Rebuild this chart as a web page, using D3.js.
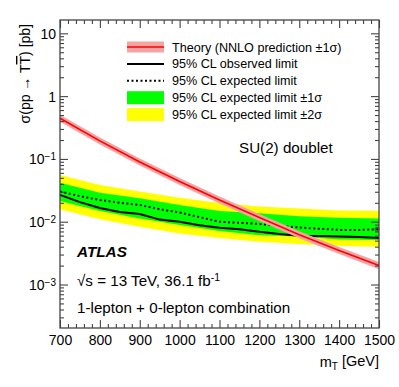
<!DOCTYPE html>
<html>
<head>
<meta charset="utf-8">
<script src="https://cdn.jsdelivr.net/npm/d3@7"></script>
<style>
body { margin: 0; background: #fff; }
text { font-family: "Liberation Sans", Arial, sans-serif; fill: #000; }
</style>
</head>
<body>
<svg id="chart" width="399" height="387"></svg>
<script>
// theory (NNLO) cross section, pb
var theoryMass = [700, 800, 900, 1000, 1100, 1200, 1300, 1400, 1500]
var theory     = [0.445, 0.194, 0.0895, 0.0437, 0.0222, 0.0117, 0.0062, 0.00348, 0.00200]
var theoryUp   = [0.505, 0.220, 0.1015, 0.0496, 0.0252, 0.0133, 0.00705, 0.00396, 0.00228]
var theoryDown = [0.390, 0.170, 0.0785, 0.0383, 0.0195, 0.0103, 0.00545, 0.00306, 0.00175]

// observed / expected limits
var limitMass = [700, 750, 800, 850, 900, 950, 1000, 1050, 1100, 1150, 1200, 1250, 1300, 1350, 1400, 1450, 1500]
var observed  = [0.0267, 0.0205, 0.0165, 0.0143, 0.0133, 0.0108, 0.0100, 0.0088, 0.0080, 0.0076, 0.0069, 0.0064, 0.0060, 0.0059, 0.0058, 0.0057, 0.0055]
var expected  = [0.0302, 0.0255, 0.0222, 0.0200, 0.0185, 0.0158, 0.0140, 0.0118, 0.0100, 0.0096, 0.0092, 0.0086, 0.0081, 0.0077, 0.0074, 0.0074, 0.0076]

// expected limit bands
var bandMass  = [700, 800, 900, 1000, 1100, 1200, 1300, 1400, 1500]
var green1Lo  = [0.0214, 0.0148, 0.0113, 0.0089, 0.0071, 0.0061, 0.0058, 0.0052, 0.0051]
var green1Hi  = [0.0419, 0.0288, 0.0236, 0.0185, 0.0148, 0.0136, 0.0122, 0.0116, 0.0113]
var yellow2Lo = [0.0158, 0.0109, 0.0083, 0.0065, 0.0055, 0.0048, 0.0044, 0.0041, 0.0040]
var yellow2Hi = [0.0556, 0.0385, 0.0302, 0.0241, 0.0199, 0.0174, 0.0163, 0.0151, 0.0150]

var xTicks = [700, 800, 900, 1000, 1100, 1200, 1300, 1400, 1500]
var yTicks = [0.001, 0.01, 0.1, 1, 10]
var yTickLabels = [["10", "\u22123"], ["10", "\u22122"], ["10", "\u22121"], ["1", ""], ["10", ""]]

var legendItems = ["Theory (NNLO prediction \u00b11\u03c3)", "95% CL observed limit", "95% CL expected limit",
	"95% CL expected limit \u00b11\u03c3", "95% CL expected limit \u00b12\u03c3"]

var svg = d3.select("#chart"),
	margin = {top: 20, left: 60, bottom: 59, right: 20},
	width = +svg.attr("width"),
	height = +svg.attr("height");

var x = d3.scaleLinear()
	.domain([700, 1500])
	.range([margin.left, width - margin.right])

var y = d3.scaleLog()
	.domain([2.03e-4, 16.3])
	.range([height - margin.bottom, margin.top])

var bands = bandMass.map((m, i) => ({m: m, g0: green1Lo[i], g1: green1Hi[i], y0: yellow2Lo[i], y1: yellow2Hi[i]}))
var th = theoryMass.map((m, i) => ({m: m, v: theory[i], lo: theoryDown[i], hi: theoryUp[i]}))

var plot = svg.append("g")

plot.append("path")
	.datum(bands)
	.attr("fill", "#ffff00")
	.attr("d", d3.area().x(d => x(d.m)).y0(d => y(d.y0)).y1(d => y(d.y1)))

plot.append("path")
	.datum(bands)
	.attr("fill", "#00ff00")
	.attr("d", d3.area().x(d => x(d.m)).y0(d => y(d.g0)).y1(d => y(d.g1)))

plot.append("path")
	.datum(expected)
	.attr("fill", "none")
	.attr("stroke", "#000")
	.attr("stroke-width", 2)
	.attr("stroke-dasharray", "2,2.5")
	.attr("d", d3.line().x((d, i) => x(limitMass[i])).y(d => y(d)))

plot.append("circle")
	.attr("cx", x(limitMass[limitMass.length - 1]) - 2)
	.attr("cy", y(expected[expected.length - 1]))
	.attr("r", 2)
	.attr("fill", "none")
	.attr("stroke", "#333")
	.attr("stroke-width", 0.8)

plot.append("path")
	.datum(observed)
	.attr("fill", "none")
	.attr("stroke", "#000")
	.attr("stroke-width", 2)
	.attr("d", d3.line().x((d, i) => x(limitMass[i])).y(d => y(d)))

plot.append("path")
	.datum(th)
	.attr("fill", "#f7a3a3")
	.attr("d", d3.area().x(d => x(d.m)).y0(d => y(d.lo)).y1(d => y(d.hi)))

plot.append("path")
	.datum(th)
	.attr("fill", "none")
	.attr("stroke", "#ff0000")
	.attr("stroke-width", 1.6)
	.attr("d", d3.line().x(d => x(d.m)).y(d => y(d.v)))

// axes, ROOT style: ticks inside on all four sides
var axisColor = "#444"
var xMinor = d3.range(700, 1501, 20).filter(v => v % 100 != 0)
var yMinor = y.ticks(50).filter(v => Math.abs(Math.log10(v) - Math.round(Math.log10(v))) > 1e-6)

function styleAxis(g) {
	g.selectAll(".domain").remove()
	g.selectAll("line").attr("stroke", axisColor).attr("stroke-width", 1.1)
}

var bottomMaj = svg.append("g")
	.attr("transform", `translate(0,${height - margin.bottom})`)
	.call(d3.axisBottom(x).tickValues(xTicks).tickSize(-8).tickPadding(7).tickFormat(d3.format("d")))
	.call(styleAxis)
bottomMaj.selectAll("text").attr("font-size", 14).attr("fill", "#000").attr("font-family", "Liberation Sans, Arial, sans-serif")

svg.append("g")
	.attr("transform", `translate(0,${height - margin.bottom})`)
	.call(d3.axisBottom(x).tickValues(xMinor).tickSize(-4).tickFormat(""))
	.call(styleAxis)

svg.append("g")
	.attr("transform", `translate(0,${margin.top})`)
	.call(d3.axisTop(x).tickValues(xTicks).tickSize(-8).tickFormat(""))
	.call(styleAxis)

svg.append("g")
	.attr("transform", `translate(0,${margin.top})`)
	.call(d3.axisTop(x).tickValues(xMinor).tickSize(-4).tickFormat(""))
	.call(styleAxis)

var leftMaj = svg.append("g")
	.attr("transform", `translate(${margin.left},0)`)
	.call(d3.axisLeft(y).tickValues(yTicks).tickSize(-8).tickPadding(4).tickFormat(""))
	.call(styleAxis)

leftMaj.selectAll(".tick text").each(function(d, i) {
	var t = d3.select(this)
		.attr("font-size", 14)
		.attr("font-family", "Liberation Sans, Arial, sans-serif")
		.attr("fill", "#000")
		.attr("dy", "0.36em")
	var lab = yTickLabels[i]
	if (lab[1]) {
		t.attr("x", -15)
		t.append("tspan").text(lab[0])
		t.append("tspan").attr("dy", "-0.45em").attr("font-size", 10).text(lab[1])
	} else {
		t.attr("x", -4)
		t.text(lab[0])
	}
})
// superscript labels: shift so the whole label ends near the axis
leftMaj.selectAll(".tick text").each(function(d, i) {
	if (yTickLabels[i][1]) {
		var w = this.getComputedTextLength()
		d3.select(this).attr("text-anchor", "start").attr("x", -4 - w)
	}
})

svg.append("g")
	.attr("transform", `translate(${margin.left},0)`)
	.call(d3.axisLeft(y).tickValues(yMinor).tickSize(-4).tickFormat(""))
	.call(styleAxis)

svg.append("g")
	.attr("transform", `translate(${width - margin.right},0)`)
	.call(d3.axisRight(y).tickValues(yTicks).tickSize(-8).tickFormat(""))
	.call(styleAxis)

svg.append("g")
	.attr("transform", `translate(${width - margin.right},0)`)
	.call(d3.axisRight(y).tickValues(yMinor).tickSize(-4).tickFormat(""))
	.call(styleAxis)

svg.append("rect")
	.attr("x", margin.left)
	.attr("y", margin.top)
	.attr("width", width - margin.left - margin.right)
	.attr("height", height - margin.top - margin.bottom)
	.attr("fill", "none")
	.attr("stroke", axisColor)
	.attr("stroke-width", 1.3)

// axis titles
var xt = svg.append("text")
	.attr("x", width - margin.right)
	.attr("y", 367)
	.attr("text-anchor", "end")
	.attr("font-size", 14.5)
xt.append("tspan").text("m")
xt.append("tspan").attr("font-size", 10).attr("dy", "0.3em").text("T")
xt.append("tspan").attr("dy", "-0.3em").text(" [GeV]")

var yt = svg.append("text")
	.attr("transform", "translate(30,24) rotate(-90)")
	.attr("text-anchor", "end")
	.attr("font-size", 14)
yt.append("tspan").text("\u03c3(pp \u2192 T")
yt.append("tspan").attr("text-decoration", "overline").text("T")
yt.append("tspan").text(") [pb]")

// legend
var legend = svg.append("g").attr("transform", "translate(127,47)")
var row = legend.selectAll("g")
	.data(legendItems)
	.enter().append("g")
	.attr("transform", (d, i) => `translate(0,${i * 16.9})`)

row.filter((d, i) => i == 0).append("rect")
	.attr("x", 0).attr("y", -5.5).attr("width", 37).attr("height", 11).attr("fill", "#f7a3a3")
row.filter((d, i) => i == 0).append("line")
	.attr("x1", 0).attr("x2", 37).attr("stroke", "#ff0000").attr("stroke-width", 1.6)
row.filter((d, i) => i == 1).append("line")
	.attr("x1", 0).attr("x2", 37).attr("stroke", "#000").attr("stroke-width", 2)
row.filter((d, i) => i == 2).append("line")
	.attr("x1", 0).attr("x2", 37).attr("stroke", "#000").attr("stroke-width", 2).attr("stroke-dasharray", "2,2.5")
row.filter((d, i) => i == 3).append("rect")
	.attr("x", 0).attr("y", -6.5).attr("width", 37).attr("height", 13).attr("fill", "#00ff00")
row.filter((d, i) => i == 4).append("rect")
	.attr("x", 0).attr("y", -6.5).attr("width", 37).attr("height", 13).attr("fill", "#ffff00")

row.append("text")
	.attr("x", 45)
	.attr("dy", "0.36em")
	.attr("font-size", 12.6)
	.text(d => d)

// annotations
svg.append("text")
	.attr("x", 239).attr("y", 153)
	.attr("font-size", 15.2)
	.text("SU(2) doublet")

svg.append("text")
	.attr("x", 77).attr("y", 257)
	.attr("font-size", 15.3)
	.attr("font-weight", "bold")
	.attr("font-style", "italic")
	.text("ATLAS")

var rs = svg.append("text")
	.attr("x", 77).attr("y", 286)
	.attr("font-size", 15.2)
rs.append("tspan").text("\u221as = 13 TeV, 36.1 fb")
rs.append("tspan").attr("font-size", 10.5).attr("dy", "-0.5em").text("-1")

svg.append("text")
	.attr("x", 77).attr("y", 313)
	.attr("font-size", 15.2)
	.text("1-lepton + 0-lepton combination")
</script>
</body>
</html>
